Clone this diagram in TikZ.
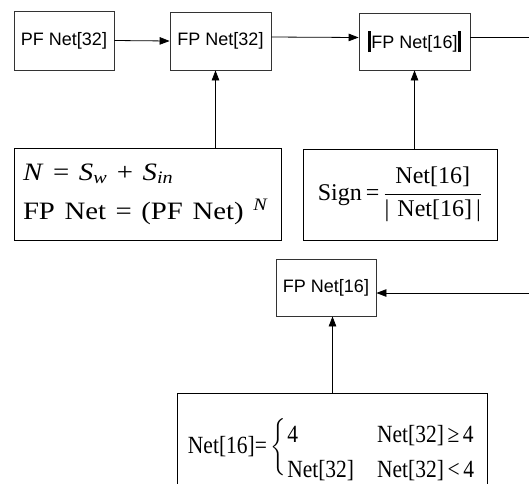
\documentclass[tikz,border=0pt]{standalone}
\usepackage{fix-cm}
\usepackage{amsmath}
\usepackage{graphicx}
\usepackage{fontspec}
\setmainfont{Liberation Serif}
\setsansfont{Liberation Sans}
\usetikzlibrary{arrows.meta}

\newcommand{\absbar}{\rule[-4pt]{3pt}{21pt}}
\newcommand{\wide}[1]{\scalebox{1.15}[1]{#1}}
\newcommand{\tall}[1]{\scalebox{1}[1.15]{#1}}

\begin{document}
\begin{tikzpicture}[x=1pt,y=-1pt,>={Triangle[length=10pt,width=7.5pt]},line width=0.8pt,
  box/.style={draw=black!80,inner sep=0pt,font=\sffamily\fontsize{18}{21}\selectfont},
  eqbox/.style={draw,inner sep=0pt}]
  \useasboundingbox (0,0) rectangle (529,483);
  % top row
  \node[box,minimum width=100,minimum height=59] (pf32) at (64,40.5) {PF Net[32]};
  \node[box,minimum width=101,minimum height=58] (fp32) at (220.5,41) {FP Net[32]};
  \node[box,minimum width=111,minimum height=57] (fp16abs) at (414.5,41.5) {\absbar FP Net[16]\absbar};
  \node[box,minimum width=100,minimum height=57] (fp16) at (326,287.5) {FP Net[16]};
  % formula boxes
  \node[eqbox,minimum width=267,minimum height=92,align=left,inner xsep=9pt,text width=249pt,
    font=\fontsize{25}{39}\selectfont] (eq1) at (147.5,194)
    {\wide{\textit{N} = \textit{S}\textsubscript{\textit{w}} + \textit{S}\textsubscript{\textit{in}}}\\
     \wide{FP Net = (PF Net) \textsuperscript{\textit{N}}}};
  \node[eqbox,minimum width=194,minimum height=91,font=\fontsize{24}{28}\selectfont] (eq2) at (400,194.5)
    {\mbox{Sign\,=\,}$\dfrac{\mbox{Net[16]}}{\mbox{|\,\,Net[16]\,|}}$};
  \node[minimum width=309,minimum height=100,inner sep=0pt] (lim) at (332.5,444) {};
  \node[anchor=base,inner sep=0pt,font=\fontsize{21.5}{30.4}\selectfont] (limtxt) at (331,453)
    {\tall{Net[16]=\,$\left\{\rule[-20pt]{0pt}{40pt}\right.$\raisebox{-5.4pt}{\begin{tabular}{@{}l@{\hspace{23pt}}l@{}}
      4 & Net[32]\,≥\,4\\
      Net[32] & Net[32]\,<\,4
    \end{tabular}}}};
  \draw (lim.south west) -- (lim.north west) -- (lim.north east) -- (lim.south east);
  % connectors
  \coordinate (out) at (529,37.5);
  \coordinate (back) at (529,293);
  \draw[->] (pf32.east) -- (fp32.west);
  \draw[->] ([yshift=4pt]fp32.east) -- ([yshift=4pt]fp16abs.west);
  \draw ([yshift=4pt]fp16abs.east) -- (out);
  \draw[->] (back) -- (back -| fp16.east);
  \draw[->] ([xshift=-5pt]fp32.south |- eq1.north) -- ([xshift=-5pt]fp32.south);
  \draw[->] (fp16abs.south |- eq2.north) -- (fp16abs.south);
  \draw[->] (lim.north) -- (lim.north |- fp16.south);
\end{tikzpicture}
\end{document}
